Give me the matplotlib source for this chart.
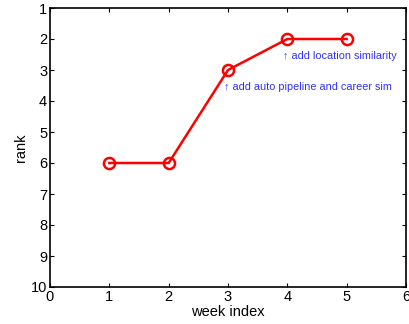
import matplotlib
matplotlib.use("Agg")
import matplotlib.pyplot as plt

weeks = [1, 2, 3, 4, 5]
ranks = [6, 6, 3, 2, 2]
ann_texts = ["↑ add auto pipeline and career sim", "↑ add location similarity"]
ann_x = [2.93, 3.93]
ann_y = [3.55, 2.55]

plt.rcParams['font.family'] = ['Liberation Sans', 'DejaVu Sans']
fig = plt.figure(figsize=(4.09, 3.24), dpi=100)
ax = fig.add_axes([50/409, 37/324, 356/409, 279/324])
ax.plot(weeks, ranks, color='red', lw=1.8, marker='o', markersize=8,
        markerfacecolor='none', markeredgewidth=1.8)
for t, x, y in zip(ann_texts, ann_x, ann_y):
    ax.text(x, y, t, color='#3030ff', fontsize=7.8, va='center', ha='left',
            family=['Liberation Sans', 'DejaVu Sans'])
ax.set_xlim(0, 6)
ax.set_ylim(10, 1)
ax.set_xticks(range(0, 7))
ax.set_yticks(range(1, 11))
ax.tick_params(direction='in', top=True, right=True, labelsize=10.5, length=3, pad=2)
for s in ax.spines.values():
    s.set_linewidth(1.2)
ax.set_xlabel('week index', fontsize=10.5, labelpad=1)
ax.set_ylabel('rank', fontsize=10.5, labelpad=2)
fig.savefig('out.png', dpi=100)
